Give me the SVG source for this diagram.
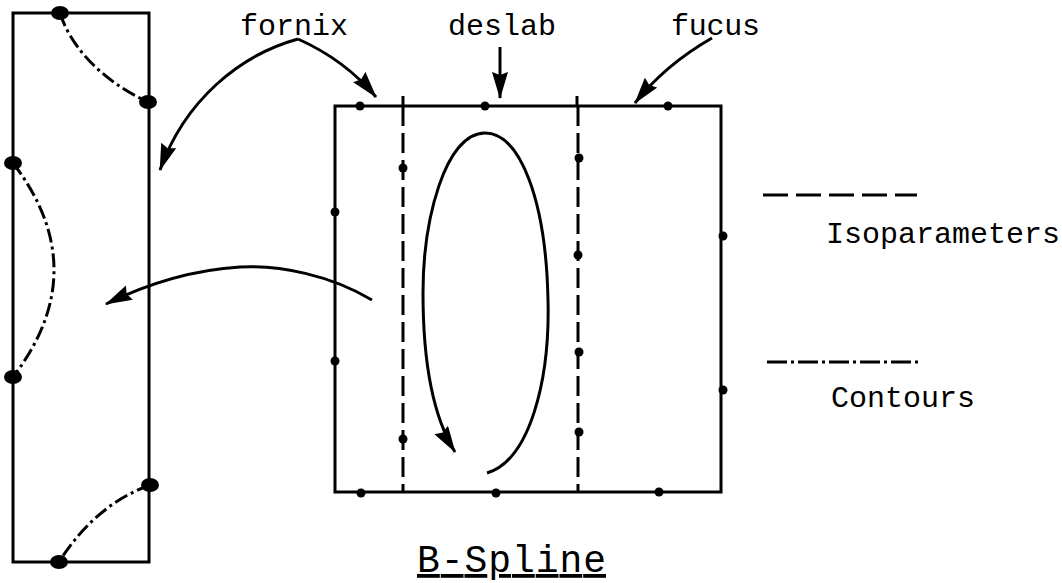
<svg xmlns="http://www.w3.org/2000/svg" width="1062" height="583" viewBox="0 0 1062 583">
  <style>
    .frame { fill: none; stroke: #000; stroke-width: 3; }
    .iso { fill: none; stroke: #000; stroke-width: 3; stroke-dasharray: 20 7; }
    .contour { fill: none; stroke: #000; stroke-width: 3; stroke-dasharray: 14 4 3 4; }
    .arrow { fill: none; stroke: #000; stroke-width: 3; marker-end: url(#head); }
    .lbl { font-family: "Liberation Mono", "Courier New", monospace; font-size: 30px; fill: #000; }
    .big { font-size: 38px; text-decoration: underline; }
    .knot { fill: #000; }
  </style>
  <defs>
    <marker id="head" markerUnits="userSpaceOnUse" markerWidth="30" markerHeight="18" refX="26" refY="8" orient="auto">
      <path d="M0,0 L27,8 L0,16 L3,8 Z" fill="#000"/>
    </marker>
  </defs>

  <!-- contour domain (left) -->
  <g id="contour-domain">
    <rect class="frame" x="13" y="13" width="136" height="549"/>
    <path class="contour" d="M60,13 C70,45 100,80 148,102"/>
    <path class="contour" d="M13,163 Q95,270 13,377"/>
    <path class="contour" d="M150,485 Q95,505 59,562"/>
    <ellipse class="knot" cx="60" cy="13" rx="9" ry="7"/>
    <ellipse class="knot" cx="148" cy="102" rx="9" ry="7"/>
    <ellipse class="knot" cx="13" cy="163" rx="9" ry="7"/>
    <ellipse class="knot" cx="13" cy="377" rx="9" ry="7"/>
    <ellipse class="knot" cx="150" cy="485" rx="9" ry="7"/>
    <ellipse class="knot" cx="59" cy="562" rx="9" ry="7"/>
  </g>

  <!-- B-spline patch (right) -->
  <g id="bspline-patch">
    <rect class="frame" x="335" y="106" width="386" height="386"/>
    <line class="frame" x1="403" y1="96" x2="403" y2="106"/>
    <line class="frame" x1="577" y1="96" x2="577" y2="106"/>
    <line class="iso" x1="403" y1="106" x2="403" y2="492"/>
    <line class="iso" x1="578" y1="106" x2="578" y2="492"/>
    <g class="knot">
      <circle cx="360" cy="106" r="4.5"/>
      <circle cx="485" cy="106" r="4.5"/>
      <circle cx="668" cy="106" r="4.5"/>
      <circle cx="361" cy="493" r="4.5"/>
      <circle cx="496" cy="493" r="4.5"/>
      <circle cx="659" cy="492" r="4.5"/>
      <circle cx="335" cy="212" r="4.5"/>
      <circle cx="335" cy="361" r="4.5"/>
      <circle cx="723" cy="236" r="4.5"/>
      <circle cx="723" cy="390" r="4.5"/>
      <circle cx="403" cy="168" r="4.5"/>
      <circle cx="403" cy="439" r="4.5"/>
      <circle cx="579" cy="158" r="4.5"/>
      <circle cx="578" cy="255" r="4.5"/>
      <circle cx="579" cy="352" r="4.5"/>
      <circle cx="579" cy="432" r="4.5"/>
    </g>
  </g>

  <!-- labels -->
  <g id="labels">
    <text class="lbl" x="240" y="35" textLength="108">fornix</text>
    <text class="lbl" x="448" y="35" textLength="108">deslab</text>
    <text class="lbl" x="671" y="35" textLength="89">fucus</text>
    <text class="lbl" x="826" y="243" textLength="234">Isoparameters</text>
    <text class="lbl" x="831" y="407" textLength="144">Contours</text>
    <text class="lbl big" x="417" y="572" textLength="189">B-Spline</text>
  </g>

  <!-- legend samples -->
  <g id="legend">
    <line class="iso" x1="763" y1="195" x2="917" y2="195" style="stroke-dasharray: 25 8"/>
    <line class="contour" x1="767" y1="362" x2="922" y2="362" style="stroke-dasharray: 20 4 3 4"/>
  </g>

  <!-- connectors -->
  <g id="connectors">
    <path class="arrow" d="M298,39 C240,55 185,100 160,170"/>
    <path class="arrow" d="M298,39 Q345,60 376,97"/>
    <path class="arrow" d="M500,47 L500,98"/>
    <path class="arrow" d="M712,38 Q665,65 635,103"/>
    <path class="arrow" d="M372,300 C330,275 280,265 240,267 C190,270 145,285 106,304"/>
    <path class="arrow" d="M487,473 C530,460 550,380 548,300 C546,200 520,133 485,133 C445,133 423,220 423,293 C423,370 435,420 455,452"/>
  </g>
</svg>
